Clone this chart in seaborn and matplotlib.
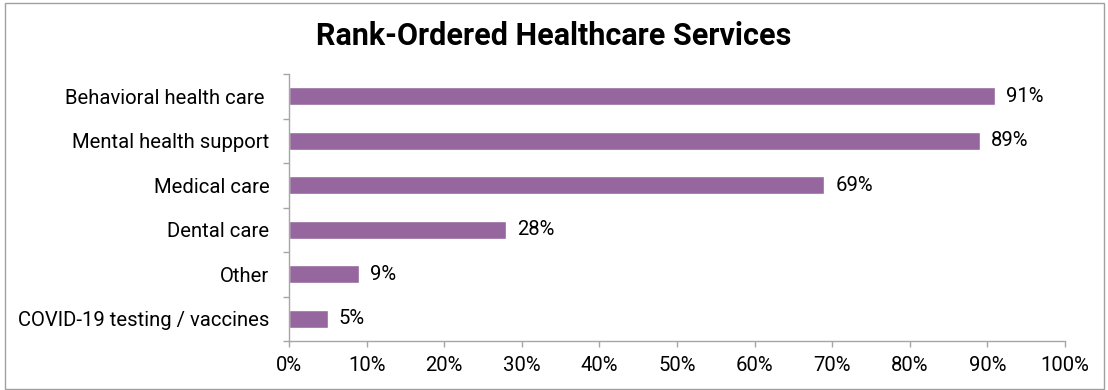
import matplotlib
matplotlib.use("Agg")
import matplotlib.pyplot as plt
from matplotlib.patches import Rectangle
from matplotlib.ticker import FixedLocator, PercentFormatter
import seaborn as sns
import pandas as pd

# Share of respondents ranking each service
services = [
    "Behavioral health care ",
    "Mental health support",
    "Medical care",
    "Dental care",
    "Other",
    "COVID-19 testing / vaccines",
]
shares = [91, 89, 69, 28, 9, 5]
x_ticks = [0, 10, 20, 30, 40, 50, 60, 70, 80, 90, 100]

sns.set_theme(style="white")
plt.rcParams["font.family"] = ["Roboto", "DejaVu Sans"]

BAR = "#95679E"
AXIS = "#A6A6A6"
FS = 14.6

df = pd.DataFrame({"service": services, "share": shares})

fig = plt.figure(figsize=(11.08, 3.90), dpi=100)
ax = fig.add_axes([289 / 1108, 49 / 390, 776 / 1108, 267 / 390])

sns.barplot(data=df, x="share", y="service", color=BAR, width=0.4,
            saturation=1, ax=ax, orient="h")

ax.set_xlim(0, 100)
ax.set_ylim(len(services) - 0.5, -0.5)
ax.set_xlabel("")
ax.set_ylabel("")
ax.xaxis.set_major_locator(FixedLocator(x_ticks))
ax.xaxis.set_major_formatter(PercentFormatter(decimals=0))

# Category ticks sit between bars
ax.yaxis.set_minor_locator(FixedLocator([i - 0.5 for i in range(len(services) + 1)]))
ax.tick_params(axis="y", which="major", length=0, pad=14, labelsize=FS, colors="black")
ax.tick_params(axis="y", which="minor", length=4, width=1, color=AXIS, left=True)
ax.tick_params(axis="x", which="major", length=4, width=1, color=AXIS, bottom=True,
               pad=7, labelsize=FS, labelcolor="black")

for side in ["top", "right"]:
    ax.spines[side].set_visible(False)
for side in ["left", "bottom"]:
    ax.spines[side].set_color(AXIS)
    ax.spines[side].set_linewidth(1)

for i, v in enumerate(shares):
    ax.annotate(f"{v}%", xy=(v, i), xytext=(8, 0), textcoords="offset points",
                va="center", ha="left", fontsize=FS, color="black")

fig.text(0.5, 1 - 45 / 390, "Rank-Ordered Healthcare Services", ha="center",
         va="baseline", fontsize=22, fontweight="bold", color="black")

fig.patches.append(Rectangle((5 / 1108, 1 / 390), 1099 / 1108, 386 / 390,
                             transform=fig.transFigure, fill=False,
                             edgecolor="#A0A0A0", linewidth=1))

fig.savefig("out.png", dpi=100)
